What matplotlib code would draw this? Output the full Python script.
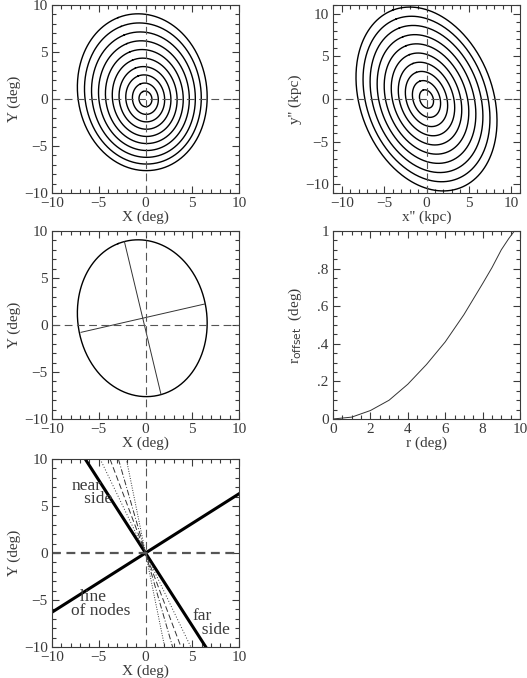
import numpy as np
import matplotlib
matplotlib.use("Agg")
import matplotlib.pyplot as plt
from matplotlib.ticker import MultipleLocator, FixedLocator, FixedFormatter

# disk geometry
incl_deg = 34.7          # inclination
nodes_deg = 32.5         # line of nodes, measured from +X
dist_kpc = 64.0          # effective distance used for the projection
disk_a_kpc = 11.18       # semi-major axis of outermost intrinsic contour
disk_q = 0.70            # intrinsic axis ratio
disk_pa_deg = 111.0      # intrinsic major axis angle from +x''
contour_scale = [0.1, 0.2, 0.3, 0.4, 0.5, 0.6, 0.7, 0.8, 0.9, 1.0]

# panel 3: axes of the fitted outer contour (deg)
major_x = [-2.25, 1.65]
major_y = [8.85, -7.35]
minor_x = [-6.9, 6.4]
minor_y = [-0.78, 2.25]

# panel 4: centre offset vs radius
r_deg = [0.0, 1.0, 2.0, 3.0, 4.0, 5.0, 6.0, 7.0, 8.0, 8.5, 9.0, 9.4, 9.7]
r_offset = [0.0, 0.01, 0.045, 0.10, 0.185, 0.29, 0.41, 0.555, 0.72, 0.805, 0.9, 0.96, 1.0]

# panel 5: line of nodes, near/far side and thin lines (x at Y=+10)
nodes_slope = 0.63
nearfar_top_x = -6.45
thin_top_x = [-4.85, -3.8, -2.9, -2.05]
thin_styles = [(0, (1, 2)), (0, (6, 3)), (0, (6, 2, 1, 2)), (0, (1, 1.5))]

text_col = "#3a3a3a"
plt.rcParams["font.family"] = ["Liberation Serif", "DejaVu Serif"]
plt.rcParams["font.size"] = 11

fig = plt.figure(figsize=(5.27, 6.78), dpi=100)
W, H = 527.0, 678.0


def add_ax(left, top):
    return fig.add_axes([left / W, 1 - (top + 188) / H, 187 / W, 188 / H])


def style(ax, major, minor):
    ax.xaxis.set_major_locator(MultipleLocator(major[0]))
    ax.xaxis.set_minor_locator(MultipleLocator(minor[0]))
    ax.yaxis.set_major_locator(MultipleLocator(major[1]))
    ax.yaxis.set_minor_locator(MultipleLocator(minor[1]))
    ax.tick_params(which="both", direction="in", top=True, right=True,
                   colors=text_col, width=0.8, labelsize=11, pad=3)
    ax.tick_params(which="major", length=5)
    ax.tick_params(which="minor", length=2.8)
    for s in ax.spines.values():
        s.set_color(text_col)
        s.set_linewidth(0.8)


def zero_lines(ax, lw_h=0.8):
    ax.axhline(0, color="#555555", lw=lw_h, ls=(0, (7, 4)))
    ax.axvline(0, color="#555555", lw=0.8, ls=(0, (7, 4)))


def disk_ellipse(scale):
    t = np.linspace(0, 2 * np.pi, 400)
    a = disk_a_kpc * scale
    b = a * disk_q
    pa = np.radians(disk_pa_deg)
    x = a * np.cos(t) * np.cos(pa) - b * np.sin(t) * np.sin(pa)
    y = a * np.cos(t) * np.sin(pa) + b * np.sin(t) * np.cos(pa)
    return x, y


def to_sky(x, y):
    # perspective projection of the inclined disk onto the sky
    th = np.radians(nodes_deg)
    inc = np.radians(incl_deg)
    lx, ly = np.cos(th), np.sin(th)
    nx, ny = -np.sin(th), np.cos(th)
    pl = x * lx + y * ly
    pn = x * nx + y * ny
    d = dist_kpc - pn * np.sin(inc)
    ox = pl * lx + pn * np.cos(inc) * nx
    oy = pl * ly + pn * np.cos(inc) * ny
    return np.degrees(np.arctan2(ox, d)), np.degrees(np.arctan2(oy, d))


def labels(ax, xl, yl, ypad=2):
    ax.set_xlabel(xl, color=text_col, labelpad=0.5)
    ax.set_ylabel(yl, color=text_col, labelpad=ypad)


# panel 1: projected contours on the sky
ax1 = add_ax(52, 5)
for s in contour_scale:
    X, Y = to_sky(*disk_ellipse(s))
    ax1.plot(X, Y, color="black", lw=1.0)
zero_lines(ax1)
ax1.set_xlim(-10, 10)
ax1.set_ylim(-10, 10)
style(ax1, (5, 5), (1, 1))
labels(ax1, "X (deg)", "Y (deg)")

# panel 2: intrinsic contours in the disk plane
ax2 = add_ax(333, 5)
for s in contour_scale:
    x, y = disk_ellipse(s)
    ax2.plot(x, y, color="black", lw=1.0)
zero_lines(ax2)
ax2.set_xlim(-11.05, 11.05)
ax2.set_ylim(-11.05, 11.05)
style(ax2, (5, 5), (1, 1))
labels(ax2, "x'' (kpc)", "y'' (kpc)")

# panel 3: outer contour with its axes
ax3 = add_ax(52, 231)
X, Y = to_sky(*disk_ellipse(contour_scale[-1]))
ax3.plot(X, Y, color="black", lw=1.0)
ax3.plot(major_x, major_y, color="#333333", lw=0.7)
ax3.plot(minor_x, minor_y, color="#333333", lw=0.7)
zero_lines(ax3)
ax3.set_xlim(-10, 10)
ax3.set_ylim(-10, 10)
style(ax3, (5, 5), (1, 1))
labels(ax3, "X (deg)", "Y (deg)")

# panel 4: centre offset
ax4 = add_ax(333, 231)
ax4.plot(r_deg, r_offset, color="#333333", lw=0.7)
ax4.set_xlim(0, 10)
ax4.set_ylim(0, 1)
style(ax4, (2, 0.2), (0.5, 0.05))
ax4.yaxis.set_major_locator(FixedLocator([0, 0.2, 0.4, 0.6, 0.8, 1.0]))
ax4.yaxis.set_major_formatter(FixedFormatter(["0", ".2", ".4", ".6", ".8", "1"]))
labels(ax4, "r (deg)", r"r$_{\rm offset}$  (deg)", ypad=10)

# panel 5: line of nodes, near and far side
ax5 = add_ax(52, 459)
xs = np.array([-10.0, 10.0])
ax5.plot(xs, nodes_slope * xs, color="black", lw=2.2)
ax5.plot([nearfar_top_x, -nearfar_top_x], [10, -10], color="black", lw=2.2)
for tx, ls in zip(thin_top_x, thin_styles):
    ax5.plot([tx, -tx], [10, -10], color="#333333", lw=0.7, ls=ls)
ax5.axhline(0, color="#555555", lw=1.6, ls=(0, (4, 2.5)))
ax5.axvline(0, color="#555555", lw=0.8, ls=(0, (7, 4)))
ax5.set_xlim(-10, 10)
ax5.set_ylim(-10, 10)
style(ax5, (5, 5), (1, 1))
labels(ax5, "X (deg)", "Y (deg)")
tk = dict(color=text_col, fontsize=12.5, va="center", ha="left", linespacing=0.8)
ax5.text(-7.95, 6.45, "near\n   side", **tk)
ax5.text(-7.95, -5.4, "  line\nof nodes", **tk)
ax5.text(5.05, -7.45, "far\n  side", **tk)

fig.savefig("out.png", dpi=100)
